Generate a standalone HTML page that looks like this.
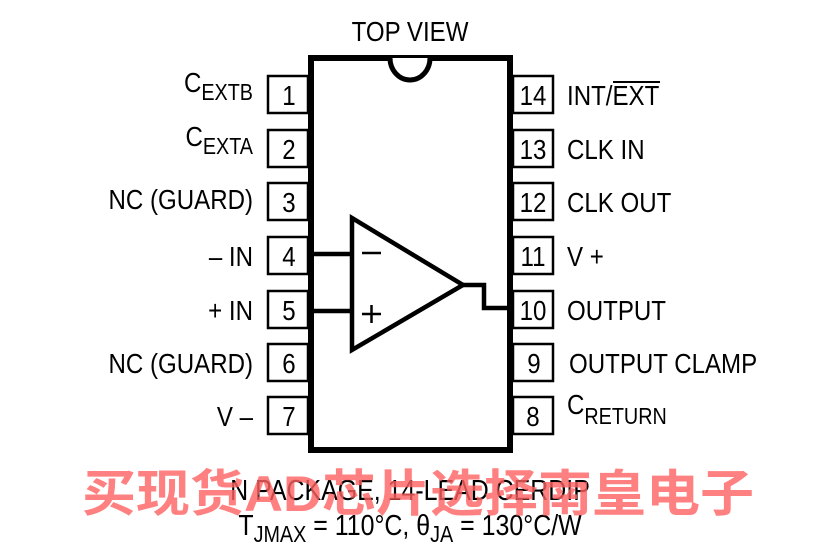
<!DOCTYPE html>
<html><head><meta charset="utf-8"><style>
html,body{margin:0;padding:0;background:#fff;}
svg{display:block;}
text{font-family:"Liberation Sans",sans-serif;fill:#000;}
</style></head><body>
<svg width="825" height="550" viewBox="0 0 825 550" xmlns="http://www.w3.org/2000/svg">
<rect x="0" y="0" width="825" height="550" fill="#fff"/>
<text transform="translate(410,41) scale(0.86,1)" text-anchor="middle" font-size="28">TOP VIEW</text>
<!-- package -->
<rect x="311" y="58" width="199" height="392" fill="none" stroke="#000" stroke-width="6"/>
<path d="M390,58 A20,22 0 0 0 430,58" fill="#fff" stroke="#000" stroke-width="5"/>
<g fill="#fff" stroke="#000" stroke-width="2.5">
<rect x="268" y="76" width="40" height="37"/>
<rect x="268" y="130" width="40" height="37"/>
<rect x="268" y="183" width="40" height="37"/>
<rect x="268" y="237" width="40" height="37"/>
<rect x="268" y="291" width="40" height="37"/>
<rect x="268" y="344" width="40" height="37"/>
<rect x="268" y="397" width="40" height="37"/>
<rect x="513" y="76" width="40" height="37"/>
<rect x="513" y="130" width="40" height="37"/>
<rect x="513" y="183" width="40" height="37"/>
<rect x="513" y="237" width="40" height="37"/>
<rect x="513" y="291" width="40" height="37"/>
<rect x="513" y="344" width="40" height="37"/>
<rect x="513" y="397" width="40" height="37"/>
</g>
<g font-size="28" text-anchor="middle">
<text transform="translate(289,105) scale(0.86,1)">1</text>
<text transform="translate(289,159) scale(0.86,1)">2</text>
<text transform="translate(289,212) scale(0.86,1)">3</text>
<text transform="translate(289,266) scale(0.86,1)">4</text>
<text transform="translate(289,320) scale(0.86,1)">5</text>
<text transform="translate(289,373) scale(0.86,1)">6</text>
<text transform="translate(289,426) scale(0.86,1)">7</text>
<text transform="translate(533,105) scale(0.86,1)">14</text>
<text transform="translate(533,159) scale(0.86,1)">13</text>
<text transform="translate(533,212) scale(0.86,1)">12</text>
<text transform="translate(533,266) scale(0.86,1)">11</text>
<text transform="translate(533,320) scale(0.86,1)">10</text>
<text transform="translate(534,373) scale(0.86,1)">9</text>
<text transform="translate(533,426) scale(0.86,1)">8</text>
</g>
<g font-size="28" text-anchor="end">
<text transform="translate(253,92) scale(0.86,1)">C<tspan font-size="23" dy="8">EXTB</tspan></text>
<text transform="translate(253,146) scale(0.86,1)">C<tspan font-size="23" dy="8">EXTA</tspan></text>
<text transform="translate(253,209) scale(0.86,1)">NC (GUARD)</text>
<text transform="translate(253,266) scale(0.86,1)">– IN</text>
<text transform="translate(253,320) scale(0.86,1)">+ IN</text>
<text transform="translate(253,373) scale(0.86,1)">NC (GUARD)</text>
<text transform="translate(253,426) scale(0.86,1)">V –</text>
</g>
<g font-size="28">
<text transform="translate(567,105) scale(0.86,1)">INT/EXT</text>
<line x1="613" y1="82" x2="660" y2="82" stroke="#000" stroke-width="2"/>
<text transform="translate(567,159) scale(0.86,1)">CLK IN</text>
<text transform="translate(567,212) scale(0.86,1)">CLK OUT</text>
<text transform="translate(567,266) scale(0.86,1)">V +</text>
<text transform="translate(567,320) scale(0.86,1)">OUTPUT</text>
<text transform="translate(569,373) scale(0.86,1)">OUTPUT CLAMP</text>
<text transform="translate(567,414) scale(0.86,1)">C<tspan font-size="23" dy="10">RETURN</tspan></text>
</g>
<polygon points="352,218 352,350 463,285" fill="none" stroke="#000" stroke-width="4.5" stroke-linejoin="miter"/>
<line x1="311" y1="254" x2="352" y2="254" stroke="#000" stroke-width="4.5"/>
<line x1="311" y1="311" x2="352" y2="311" stroke="#000" stroke-width="4.5"/>
<polyline points="463,285 484,285 484,308 510,308" fill="none" stroke="#000" stroke-width="4.5"/>
<line x1="362" y1="253" x2="381" y2="253" stroke="#000" stroke-width="2.5"/>
<line x1="362" y1="314" x2="381" y2="314" stroke="#000" stroke-width="2.5"/>
<line x1="371.5" y1="305" x2="371.5" y2="323" stroke="#000" stroke-width="2.5"/>
<text transform="translate(410,500) scale(0.86,1)" text-anchor="middle" font-size="29">N PACKAGE, 14-LEAD CERDIP</text>
<text transform="translate(410,535) scale(0.86,1)" text-anchor="middle" font-size="29">T<tspan font-size="23" dy="7">JMAX</tspan><tspan dy="-7"> = 110°C, θ</tspan><tspan font-size="23" dy="7">JA</tspan><tspan dy="-7"> = 130°C/W</tspan></text>
<text x="418" y="511" text-anchor="middle" font-size="50" font-weight="bold" fill="#ff6060" fill-opacity="0.8" style="font-family:'Liberation Sans','Noto Sans CJK SC',sans-serif;fill:#ff6060" textLength="672" lengthAdjust="spacingAndGlyphs">买现货AD芯片选择南皇电子</text>
</svg>
</body></html>
